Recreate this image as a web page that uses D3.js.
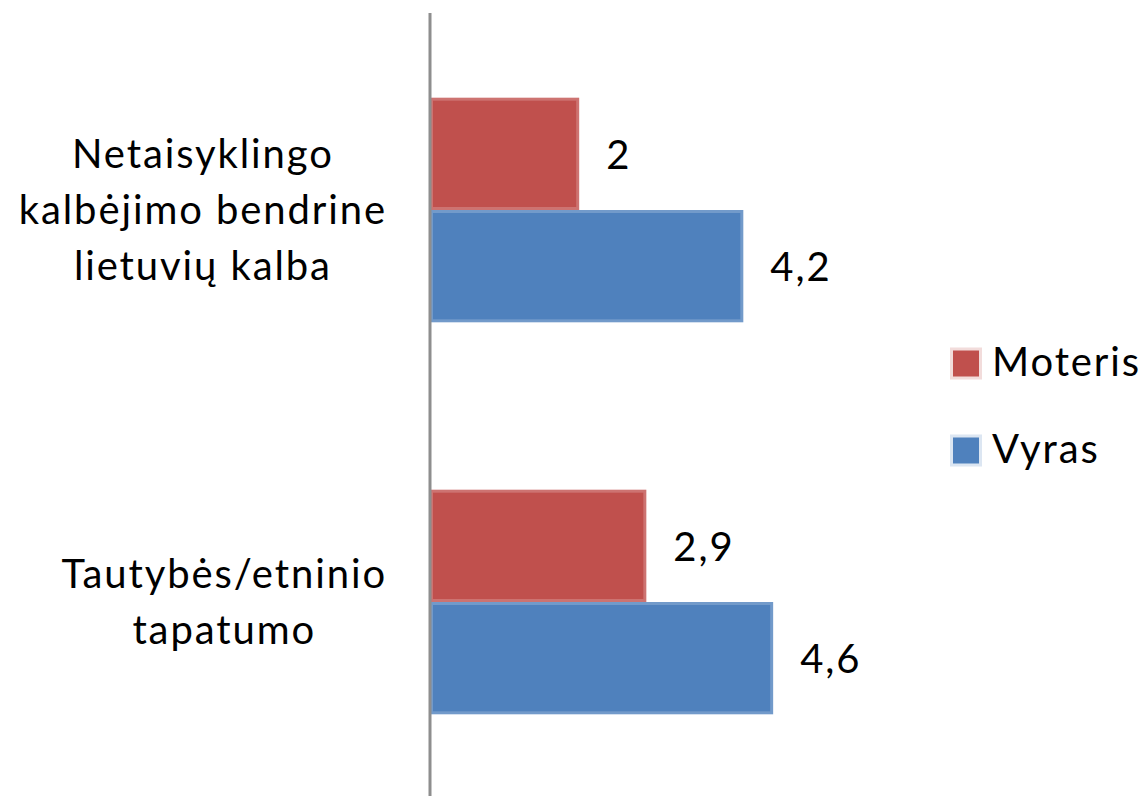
<!DOCTYPE html>
<html>
<head>
<meta charset="utf-8">
<script src="https://cdn.jsdelivr.net/npm/d3@7"></script>
<style>
  html, body { margin: 0; padding: 0; background: #ffffff; }
  svg { display: block; }
  text { font-family: Lato, "Open Sans", sans-serif; fill: #000; letter-spacing: 1.9px; }
</style>
</head>
<body>
<script>
// ---- data ----
const categories = ["Netaisyklingo kalbėjimo bendrine lietuvių kalba", "Tautybės/etninio tapatumo"];
const categoryLines = [["Netaisyklingo", "kalbėjimo bendrine", "lietuvių kalba"], ["Tautybės/etninio", "tapatumo"]];
const seriesNames = ["Moteris", "Vyras"];
const moterisValues = [2, 2.9];
const vyrasValues = [4.2, 4.6];
const valueLabels = [["2", "4,2"], ["2,9", "4,6"]];
const seriesColors = ["#C0504D", "#4F81BD"];

const W = 1142, H = 796;
const svg = d3.select("body").append("svg").attr("width", W).attr("height", H);

const x = d3.scaleLinear().domain([0, 5]).range([430, 803]);
const y = d3.scaleBand().domain(categories).range([14, 798]).paddingInner(0.427).paddingOuter(0.2135);
const ys = d3.scaleBand().domain(seriesNames).range([0, y.bandwidth()]);

const seriesValues = [moterisValues, vyrasValues];
const rows = [];
categories.forEach((c, ci) => {
  seriesNames.forEach((s, si) => {
    rows.push({ cat: c, ci, series: s, si, value: seriesValues[si][ci], label: valueLabels[ci][si] });
  });
});

const fontSize = 40;
const bw = 3;

// bars
svg.append("g").selectAll("rect").data(rows).join("rect")
  .attr("x", d => x(0) + bw / 2)
  .attr("y", d => y(d.cat) + ys(d.series) + bw / 2)
  .attr("width", d => x(d.value) - x(0) - bw)
  .attr("height", ys.bandwidth() - bw)
  .attr("fill", d => seriesColors[d.si])
  .attr("stroke", d => d3.interpolateRgb(seriesColors[d.si], "#ffffff")(0.2))
  .attr("stroke-width", bw);

// value labels
svg.append("g").selectAll("text").data(rows).join("text")
  .attr("x", d => x(d.value) + 27)
  .attr("y", d => y(d.cat) + ys(d.series) + ys.bandwidth() / 2 + 15)
  .attr("font-size", fontSize)
  .text(d => d.label);

// vertical axis line
svg.append("line")
  .attr("x1", x(0)).attr("x2", x(0))
  .attr("y1", 13).attr("y2", H)
  .attr("stroke", "#8E8E8E").attr("stroke-width", 3);

// category labels
const catG = svg.append("g");
categories.forEach((c, ci) => {
  const lines = categoryLines[ci];
  const g = catG.append("g");
  const texts = g.selectAll("text").data(lines).join("text")
    .attr("font-size", fontSize)
    .attr("text-anchor", "middle")
    .text(d => d);
  let maxW = 0;
  texts.each(function () { maxW = Math.max(maxW, this.getComputedTextLength()); });
  const cx = 387 - maxW / 2;
  const cy = y(c) + y.bandwidth() / 2;
  const n = lines.length;
  texts.attr("x", cx).attr("y", (d, i) => cy + 14 + (i - (n - 1) / 2) * 56);
});

// legend
const legend = svg.append("g");
seriesNames.forEach((s, si) => {
  const ly = 364 + si * 87;
  legend.append("rect")
    .attr("x", 951.5).attr("y", ly - 15)
    .attr("width", 29).attr("height", 29)
    .attr("fill", seriesColors[si])
    .attr("stroke", d3.interpolateRgb(seriesColors[si], "#ffffff")(0.8))
    .attr("stroke-width", 3);
  legend.append("text")
    .attr("x", 992).attr("y", ly + 12)
    .attr("font-size", fontSize)
    .text(s);
});
</script>
</body>
</html>
